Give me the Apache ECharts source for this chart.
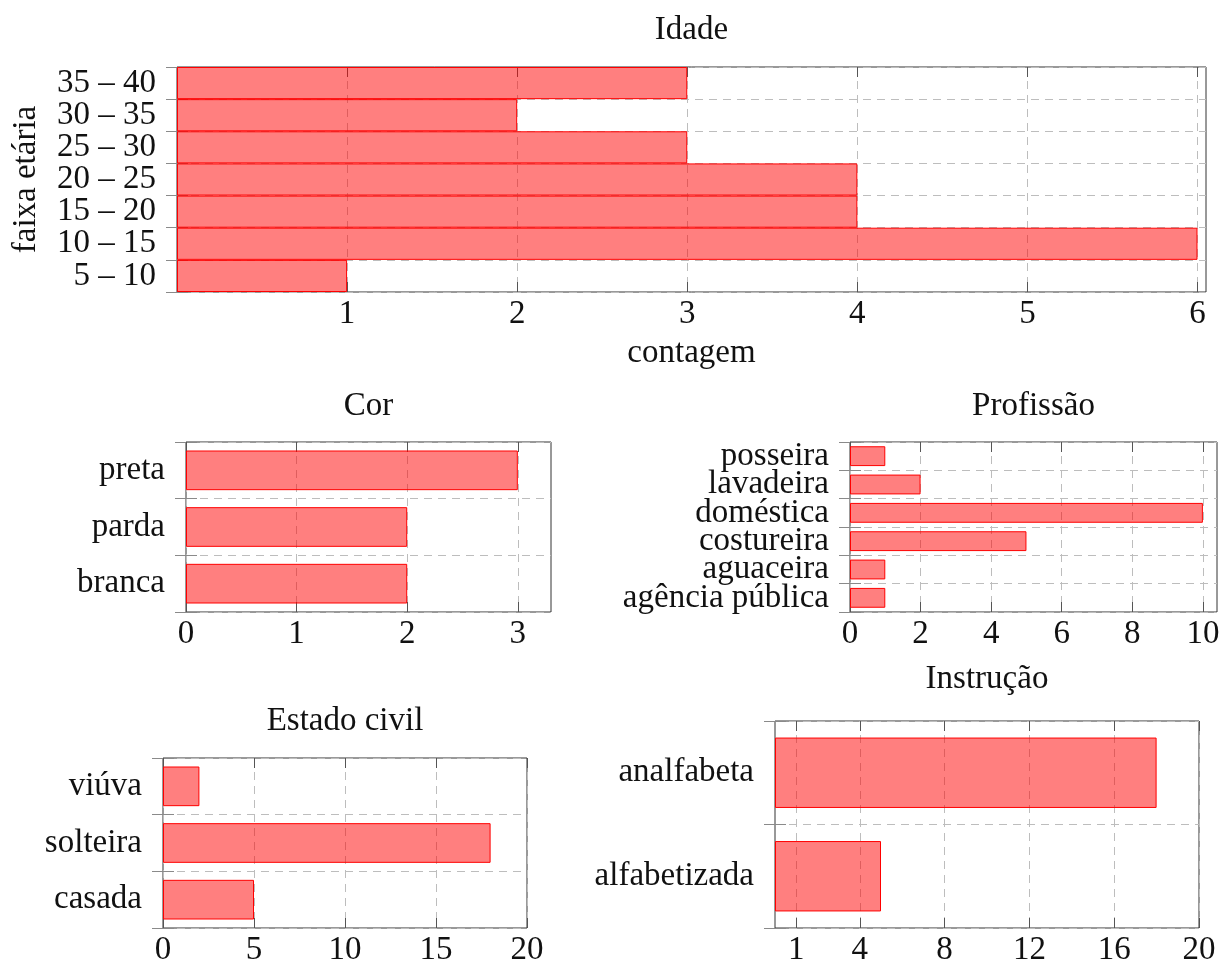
<!DOCTYPE html>
<html>
<head>
<meta charset="utf-8">
<script src="https://cdn.jsdelivr.net/npm/echarts@6/dist/echarts.min.js"></script>
<style>
  html, body { margin: 0; padding: 0; background: #fff; }
  #chart { width: 1220px; height: 963px; }
</style>
</head>
<body>
<div id="chart"></div>
<script>
// Categories are listed bottom to top, values in the same order.
const idadeCategories = ['5 – 10', '10 – 15', '15 – 20', '20 – 25', '25 – 30', '30 – 35', '35 – 40'];
const idadeValues = [1, 6, 4, 4, 3, 2, 3];
const idadeTicks = [1, 2, 3, 4, 5, 6];

const corCategories = ['branca', 'parda', 'preta'];
const corValues = [2, 2, 3];
const corTicks = [0, 1, 2, 3];

const profissaoCategories = ['agência pública', 'aguaceira', 'costureira', 'doméstica', 'lavadeira', 'posseira'];
const profissaoValues = [1, 1, 5, 10, 2, 1];
const profissaoTicks = [0, 2, 4, 6, 8, 10];

const estadoCategories = ['casada', 'solteira', 'viúva'];
const estadoValues = [5, 18, 2];
const estadoTicks = [0, 5, 10, 15, 20];

const instrucaoCategories = ['alfabetizada', 'analfabeta'];
const instrucaoValues = [5, 18];
const instrucaoTicks = [1, 4, 8, 12, 16, 20];

const FONT = "'Liberation Serif', 'Times New Roman', serif";
const FS = 33;
const TEXT = '#111';
const FRAME = '#333';
const GRID_LINE = '#bdbdbd';

const grids = [], xAxes = [], yAxes = [], series = [], titles = [];

function panel(opt) {
  const gi = grids.length;
  grids.push({
    left: opt.left, top: opt.top, width: opt.width, height: opt.height,
    containLabel: false, outerBoundsMode: 'none',
    show: true, borderColor: FRAME, borderWidth: 1, backgroundColor: 'transparent'
  });
  titles.push({
    text: opt.title, left: opt.left + opt.width / 2, top: opt.titleTop,
    textAlign: 'center', padding: 0,
    textStyle: { fontFamily: FONT, fontSize: FS, fontWeight: 'normal', color: TEXT }
  });
  const xi = xAxes.length;
  const xBase = {
    type: 'value', gridIndex: gi, min: opt.min, max: opt.max, interval: opt.interval
  };
  xAxes.push(Object.assign({}, xBase, {
    position: 'bottom',
    name: opt.xName || '', nameLocation: 'middle', nameGap: opt.xNameGap || 0,
    nameMoveOverlap: false,
    nameTextStyle: { fontFamily: FONT, fontSize: FS, color: TEXT },
    axisLine: { show: false },
    axisTick: { show: true, inside: true, length: 10, customValues: opt.ticks, lineStyle: { color: '#555' } },
    axisLabel: { show: true, margin: 6, customValues: opt.ticks, fontFamily: FONT, fontSize: FS, color: TEXT },
    splitLine: { show: true, lineStyle: { color: GRID_LINE, type: [8, 6], width: 1 } }
  }));
  xAxes.push(Object.assign({}, xBase, {
    position: 'top',
    axisLine: { show: false },
    axisTick: { show: true, inside: true, length: 10, customValues: opt.ticks, lineStyle: { color: '#555' } },
    axisLabel: { show: false },
    splitLine: { show: false }
  }));
  const yi = yAxes.length;
  yAxes.push({
    type: 'category', gridIndex: gi, data: opt.categories, position: 'left',
    name: opt.yName || '', nameLocation: 'middle', nameGap: opt.yNameGap || 0, nameRotate: 90,
    nameMoveOverlap: false,
    nameTextStyle: { fontFamily: FONT, fontSize: FS, color: TEXT },
    axisLine: { show: false },
    axisTick: { show: true, inside: false, length: 11, lineStyle: { color: '#8a8a8a' } },
    axisLabel: { interval: 0, margin: 21, fontFamily: FONT, fontSize: FS, color: TEXT },
    splitLine: { show: true, lineStyle: { color: GRID_LINE, type: [8, 6], width: 1 } }
  });
  yAxes.push({
    type: 'category', gridIndex: gi, data: opt.categories, position: 'right',
    axisLine: { show: false },
    axisTick: { show: true, inside: false, length: 11, lineStyle: { color: '#8a8a8a' } },
    axisLabel: { show: false },
    splitLine: { show: false }
  });
  series.push({
    type: 'bar', xAxisIndex: xi, yAxisIndex: yi, data: opt.values,
    barCategoryGap: opt.gap, silent: true,
    itemStyle: { color: 'rgba(255,0,0,0.5)', borderColor: '#ff0000', borderWidth: 1 }
  });
}

panel({ title: 'Idade', titleTop: 14, left: 177, top: 67, width: 1029, height: 225,
  categories: idadeCategories, values: idadeValues, ticks: idadeTicks,
  min: 0, max: 6.05, interval: 1, gap: '0%',
  xName: 'contagem', xNameGap: 45, yName: 'faixa etária', yNameGap: 134 });

panel({ title: 'Cor', titleTop: 390, left: 186, top: 442, width: 365, height: 170,
  categories: corCategories, values: corValues, ticks: corTicks,
  min: 0, max: 3.3, interval: 1, gap: '30%' });

panel({ title: 'Profissão', titleTop: 390, left: 850, top: 442, width: 367, height: 170,
  categories: profissaoCategories, values: profissaoValues, ticks: profissaoTicks,
  min: 0, max: 10.4, interval: 2, gap: '30%' });

panel({ title: 'Estado civil', titleTop: 705, left: 163, top: 758, width: 364, height: 170,
  categories: estadoCategories, values: estadoValues, ticks: estadoTicks,
  min: 0, max: 20, interval: 5, gap: '30%' });

panel({ title: 'Instrução', titleTop: 663, left: 775, top: 721, width: 424, height: 207,
  categories: instrucaoCategories, values: instrucaoValues, ticks: instrucaoTicks,
  min: 0, max: 20, interval: 4, gap: '32%' });

const chart = echarts.init(document.getElementById('chart'), null, { renderer: 'canvas' });
chart.setOption({
  animation: false,
  backgroundColor: '#fff',
  title: titles,
  grid: grids,
  xAxis: xAxes,
  yAxis: yAxes,
  series: series
});
</script>
</body>
</html>
